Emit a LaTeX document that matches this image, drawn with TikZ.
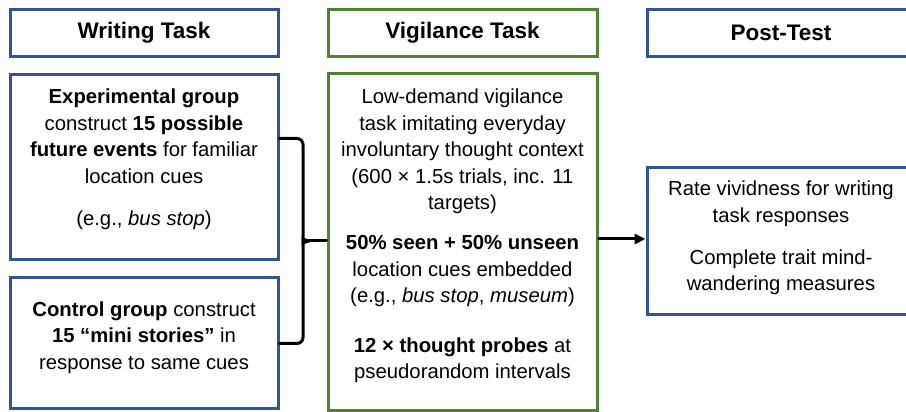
\documentclass[tikz,border=0pt]{standalone}
\usepackage{fontspec}
\setmainfont{Liberation Sans}
\usetikzlibrary{arrows.meta}
\definecolor{taskblue}{RGB}{47,85,151}
\definecolor{taskgreen}{RGB}{83,129,53}
\newcommand{\bodyfont}{\fontsize{20.3}{26.5}\selectfont}
\newcommand{\headfont}{\fontsize{22.5}{27}\selectfont\bfseries}
\begin{document}
\begin{tikzpicture}[x=1pt, y=1pt,
  frame/.style={draw=taskblue, line width=3pt, minimum width=268pt},
  gframe/.style={frame, draw=taskgreen, minimum width=269pt},
  head/.style={minimum height=47pt, font=\headfont},
  body/.style={font=\bodyfont, align=center},
  link/.style={line width=3pt, line cap=round}]
\useasboundingbox (0,0) rectangle (906,412);

% Headers
\node[frame, head]  (wthead) at (144,379)   {Writing Task};
\node[gframe, head] (vthead) at (462.5,379) {Vigilance Task};
\node[frame, head]  (pthead) at (781,379)   {Post-Test};

% Boxes
\node[frame, minimum height=185pt]  (exp)  at (144,244.5)   {};
\node[frame, minimum height=131pt]  (ctl)  at (144,68.5)    {};
\node[gframe, minimum height=337pt] (vig)  at (462.5,169.5) {};
\node[frame, minimum height=147pt]  (post) at (781,170.5)   {};

% Box texts
\node[body] (exptext) at (144,252.5) {\textbf{Experimental group}\\
  construct \textbf{15 possible}\\ \textbf{future events} for familiar\\
  location cues\\[16pt] (e.g., \textit{bus stop})};
\node[body] (ctltext) at (144,74.5) {\textbf{Control group} construct\\
  \textbf{15 “mini stories”} in\\ response to same cues};
\node[body] (vigtext) at (462.5,176) {Low-demand vigilance\\
  task imitating everyday\\ involuntary thought context\\
  (600 × 1.5s trials, inc. 11\\ targets)\\[13.5pt]
  \textbf{50\% seen + 50\% unseen}\\ location cues embedded\\
  (e.g., \textit{bus stop}, \textit{museum})\\[23pt]
  \textbf{12 × thought probes} at\\ pseudorandom intervals};
\node[body] (posttext) at (781,174) {Rate vividness for writing\\
  task responses\\[15.5pt] Complete trait mind-\\ wandering measures};

% Brace and arrow
\coordinate (bt)  at ([yshift=-65]exp.north east);
\coordinate (tip) at (309,171);
\draw[link, rounded corners=6pt] (bt) -| (303,178) to[out=-90, in=180] (tip);
\draw[link, rounded corners=6pt] (ctl.east) -| (303,164) to[out=90, in=180] (tip);
\draw[link] (tip) -- (tip -| vig.west);
\draw[link, -{Triangle[length=11pt, width=10pt]}] (vig.east |- 0,173) -- (post.west |- 0,173);
\end{tikzpicture}
\end{document}
